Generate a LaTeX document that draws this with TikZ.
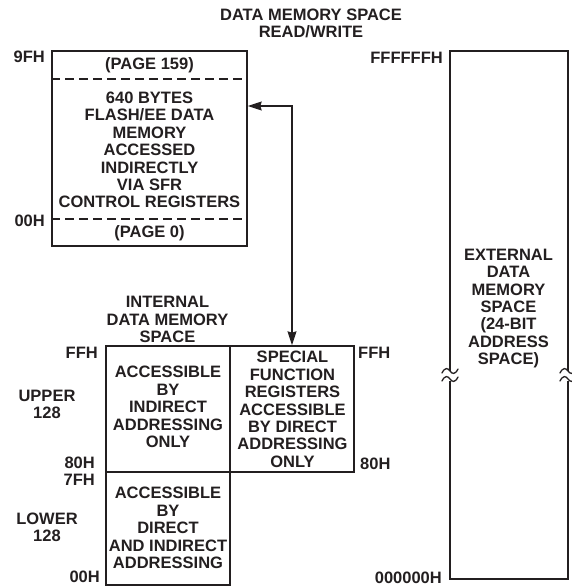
\documentclass[tikz,border=0pt]{standalone}
\usepackage{fontspec}
\setmainfont{Liberation Sans}
\usetikzlibrary{arrows.meta}
\definecolor{ink}{HTML}{231F20}
\begin{document}
\begin{tikzpicture}[x=1pt,y=-1pt,
  lbl/.style={font=\fontsize{16.5}{17.4}\selectfont\bfseries, text=ink, inner sep=0pt, align=center},
  membox/.style={draw=ink, line width=1.5pt, inner sep=0pt, fill=white},
  dashline/.style={draw=ink, line width=1.5pt, dash pattern=on 9pt off 5pt},
  conn/.style={draw=ink, line width=1.1pt, {Stealth[length=14pt,width=9pt,inset=1.5pt]}-{Stealth[length=14pt,width=9pt,inset=1.5pt]}},
  brk/.style={draw=ink, line width=1.3pt, line cap=round}
]
\useasboundingbox (0,0) rectangle (572,586);

% title
\node[lbl] (title) at (311,23.5) {DATA MEMORY SPACE\\READ/WRITE};

% flash/EE data memory
\node[membox, minimum width=195pt, minimum height=195pt] (flash) at (149.5,148.5) {};
\coordinate (d1) at (0,79);
\coordinate (d2) at (0,219);
\draw[dashline] (flash.west |- d1) -- (flash.east |- d1);
\draw[dashline] (flash.west |- d2) -- (flash.east |- d2);
\node[lbl] (p159) at (149.5,65) {(PAGE 159)};
\node[lbl] (p0) at (149.5,233) {(PAGE 0)};
\node[lbl] (flashtxt) at (149.5,150) {640 BYTES\\FLASH/EE DATA\\MEMORY\\ACCESSED\\INDIRECTLY\\VIA SFR\\CONTROL REGISTERS};
\node[lbl, anchor=east] (l9fh) at (45,57) {9FH};
\node[lbl, anchor=east] (l00hf) at (45,221) {00H};

% internal data memory
\node[lbl] (inttitle) at (167.5,319.5) {INTERNAL\\DATA MEMORY\\SPACE};
\node[membox, minimum width=124pt, minimum height=126pt] (upper) at (168,409) {};
\node[membox, minimum width=124pt, minimum height=126pt] (sfr) at (292,409) {};
\node[membox, minimum width=124pt, minimum height=113pt] (lower) at (168,528.5) {};
\node[lbl] (uppertxt) at (168,407) {ACCESSIBLE\\BY\\INDIRECT\\ADDRESSING\\ONLY};
\node[lbl] (sfrtxt) at (292.5,409.5) {SPECIAL\\FUNCTION\\REGISTERS\\ACCESSIBLE\\BY DIRECT\\ADDRESSING\\ONLY};
\node[lbl] (lowertxt) at (168,528) {ACCESSIBLE\\BY\\DIRECT\\AND INDIRECT\\ADDRESSING};

\node[lbl, anchor=east] (lffh) at (98,353) {FFH};
\node[lbl] (lupper) at (47,404.5) {UPPER\\128};
\node[lbl, anchor=east] (l80h) at (95,463) {80H};
\node[lbl, anchor=east] (l7fh) at (95,480) {7FH};
\node[lbl] (llower) at (47,527.5) {LOWER\\128};
\node[lbl, anchor=east] (l00h) at (100,576.5) {00H};
\node[lbl, anchor=west] (rffh) at (358,353) {FFH};
\node[lbl, anchor=west] (r80h) at (360,464) {80H};

% connector
\coordinate (ay) at (0,106);
\draw[conn] (flash.east |- ay) -| (sfr.north);

% external data memory
\node[membox, minimum width=118pt, minimum height=528pt] (ext) at (509,315) {};
\node[lbl] (exttxt) at (508.5,308.5) {EXTERNAL\\DATA\\MEMORY\\SPACE\\(24-BIT\\ADDRESS\\SPACE)};
\node[lbl, anchor=east] (lfff) at (443,58) {FFFFFFH};
\node[lbl, anchor=east] (l000) at (442,578) {000000H};

% break marks
\foreach \bx in {450,568} {
  \fill[white] (\bx-3,371) rectangle (\bx+3,381);
  \draw[brk] (\bx-8,373) .. controls (\bx-5,367) and (\bx-2,368) .. (\bx,371) .. controls (\bx+2,374) and (\bx+5,375) .. (\bx+8,369);
  \draw[brk] (\bx-8,381) .. controls (\bx-5,375) and (\bx-2,376) .. (\bx,379) .. controls (\bx+2,382) and (\bx+5,383) .. (\bx+8,377);
}
\end{tikzpicture}
\end{document}
